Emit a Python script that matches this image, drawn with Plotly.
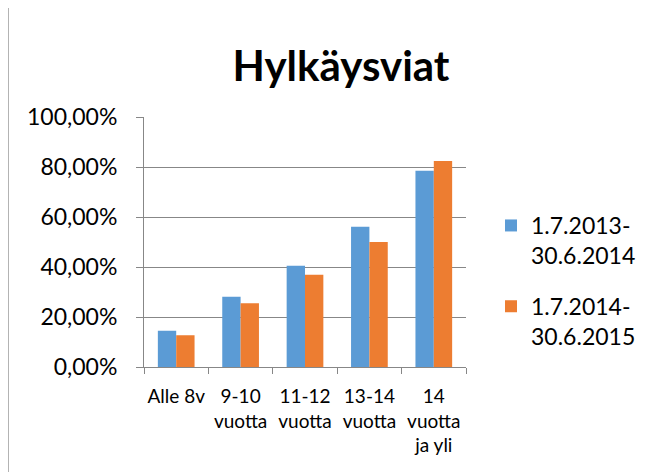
import plotly.graph_objects as go

categories = ["Alle 8v", "9-10<br>vuotta", "11-12<br>vuotta", "13-14<br>vuotta", "14<br>vuotta<br>ja yli"]
series_names = ["1.7.2013-<br>30.6.2014", "1.7.2014-<br>30.6.2015"]
values_2013 = [0.145, 0.281, 0.405, 0.561, 0.785]
values_2014 = [0.127, 0.255, 0.369, 0.500, 0.824]
colors = ["#5B9BD5", "#ED7D31"]

FONT = "Lato, 'Open Sans', sans-serif"

# page body has an 8px margin: work in page pixels, shift by OFF
OFF = 8
W, H = 654 - OFF, 472 - OFF
L, R, T, B = 144 - OFF, 466 - OFF, 117 - OFF, 367 - OFF
pw, ph = R - L, B - T

def px_x(x):
    return (x - OFF - L) / pw

def px_y(y):
    return (B - (y - OFF)) / ph

fig = go.Figure()
fig.add_trace(go.Bar(x=categories, y=values_2013, name=series_names[0],
                     marker=dict(color=colors[0], line=dict(width=0)), legendgroup="a"))
fig.add_trace(go.Bar(x=categories, y=values_2014, name=series_names[1],
                     marker=dict(color=colors[1], line=dict(width=0)), legendgroup="b"))

fig.update_layout(
    width=W, height=H,
    margin=dict(l=L, r=W - R, t=T, b=H - B, pad=0, autoexpand=False),
    paper_bgcolor="white", plot_bgcolor="white",
    font=dict(family=FONT, color="#000000"),
    separators=", ",
    barmode="group", bargap=0.43, bargroupgap=0,
    title=dict(text="<b>Hylkäysviat</b>", x=(341 - OFF) / W, xanchor="center",
               y=1 - (66 - OFF) / H, yanchor="middle", xref="container",
               font=dict(size=42, family=FONT, color="#000000")),
    showlegend=True,
    legend=dict(x=(491 - OFF) / W, xref="container", xanchor="left",
                y=1 - (204 - OFF) / H, yref="container", yanchor="top",
                font=dict(size=23, family=FONT, color="#000000"),
                valign="top", tracegroupgap=18, itemwidth=30,
                bgcolor="rgba(0,0,0,0)"),
    xaxis=dict(showgrid=False, showline=True, linecolor="#878787", linewidth=1,
               ticks="outside", tickson="boundaries", ticklen=6, tickcolor="#878787",
               tickfont=dict(size=19, family=FONT, color="#000000"),
               tickangle=0, automargin=False, ticklabelstandoff=12),
    yaxis=dict(range=[0, 1], tickvals=[0, 0.2, 0.4, 0.6, 0.8, 1.0], tickformat=".2%",
               showgrid=True, gridcolor="#878787", gridwidth=1,
               showline=True, linecolor="#878787", linewidth=1,
               ticks="outside", ticklen=7, tickcolor="#878787",
               tickfont=dict(size=23, family=FONT, color="#000000"),
               automargin=False, ticklabelstandoff=14, zeroline=False),
    shapes=[dict(type="path", xref="paper", yref="paper",
                 path=f"M {px_x(8)} {px_y(490)} L {px_x(8)} {px_y(5)} L {px_x(670)} {px_y(5)}",
                 line=dict(color="#9A9A9A", width=1.5))],
)

fig.write_html("out.html")
